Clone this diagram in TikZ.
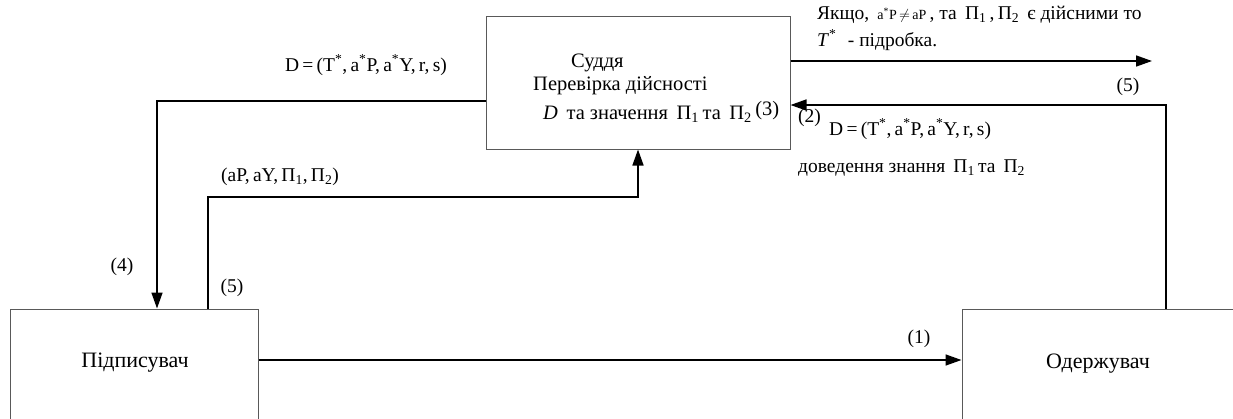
\documentclass[tikz,border=0pt]{standalone}
\usepackage{fontspec}
\setmainfont{Liberation Serif}
\usetikzlibrary{arrows.meta}
\tikzset{
  box/.style={draw=black!65, line width=1pt, inner sep=0pt},
  conn/.style={line width=1.6pt, -{Triangle[length=16pt,width=11pt]}},
  wire/.style={line width=1.6pt},
  lbl/.style={inner sep=0pt, font=\fontsize{19.5}{23}\selectfont},
  jtxt/.style={inner sep=0pt, font=\fontsize{20.5}{24}\selectfont},
  main/.style={inner sep=0pt, font=\fontsize{22}{26}\selectfont},
}
\newcommand{\st}{\textsuperscript{*}}
\begin{document}
\begin{tikzpicture}[x=1pt,y=-1pt]
\useasboundingbox (0,0) rectangle (1233,418);
\clip (0,0) rectangle (1233,418);
% boxes
\node[box, minimum width=304pt, minimum height=133pt] (judge) at (638,82.5) {};
\node[box, minimum width=248pt, minimum height=140pt] (signer) at (134,379) {};
\node[box, minimum width=300pt, minimum height=140pt] (recv) at (1112,379) {};
% box texts
\node[jtxt, anchor=west] (j1) at (571,63) {Суддя};
\node[jtxt, anchor=west] (j2) at (533,86) {Перевірка дійсності};
\node[jtxt, anchor=west] (j3) at (543,112) {\textit{D}\, та значення\, Π\textsubscript{1}\,та\, Π\textsubscript{2}\,\raisebox{4pt}{(3)}};
\node[main] (s1) at (135,363) {Підписувач};
\node[main] (r1) at (1098,364) {Одержувач};
% helper coordinates
\coordinate (yA) at (0,360);
\coordinate (yB) at (0,101);
\coordinate (yC) at (0,197);
\coordinate (yD) at (0,105);
\coordinate (out) at (1152,61);
% connectors
\draw[conn] (signer.east |- yA) -- (recv.west |- yA);
\draw[conn] (judge.west |- yB) -| ([xshift=23pt]signer.north);
\draw[conn] ([xshift=74pt]signer.north) |- (judge.south |- yC) -- (judge.south);
\draw[conn] (judge.east |- out) -- (out);
\draw[conn] ([xshift=54pt]recv.north) |- (judge.east |- yD);
% labels
\node[lbl] (l1) at (366,65) {D\,=\,(T\st,\,a\st P,\,a\st Y,\,r,\,s)};
\node[lbl] (l2) at (280,177) {(aP,\,aY,\,Π\textsubscript{1},\,Π\textsubscript{2})};
\node[lbl] (n4) at (122,267) {(4)};
\node[lbl] (n5a) at (232,288) {(5)};
\node[lbl] (n1) at (919,339) {(1)};
\node[lbl] (n5b) at (1128,87) {(5)};
\node[lbl, anchor=west] (n2) at (798,118) {\raisebox{3pt}{(2)}};
\node[lbl, anchor=west] (l3) at (829,129) {D\,=\,(T\st,\,a\st P,\,a\st Y,\,r,\,s)};
\node[lbl, anchor=west] (l4) at (798,168) {доведення знання\, Π\textsubscript{1}\,та\, Π\textsubscript{2}};
\node[lbl, anchor=west] (l5) at (817,15) {Якщо,\, {\fontsize{14}{16}\selectfont a\st P\,$\neq$\,aP}\,, та\, Π\textsubscript{1}\,,\,Π\textsubscript{2}\, є дійсними то};
\node[lbl, anchor=west] (l6) at (817,40) {\textit{T}\st\,\, - підробка.};
\end{tikzpicture}
\end{document}
